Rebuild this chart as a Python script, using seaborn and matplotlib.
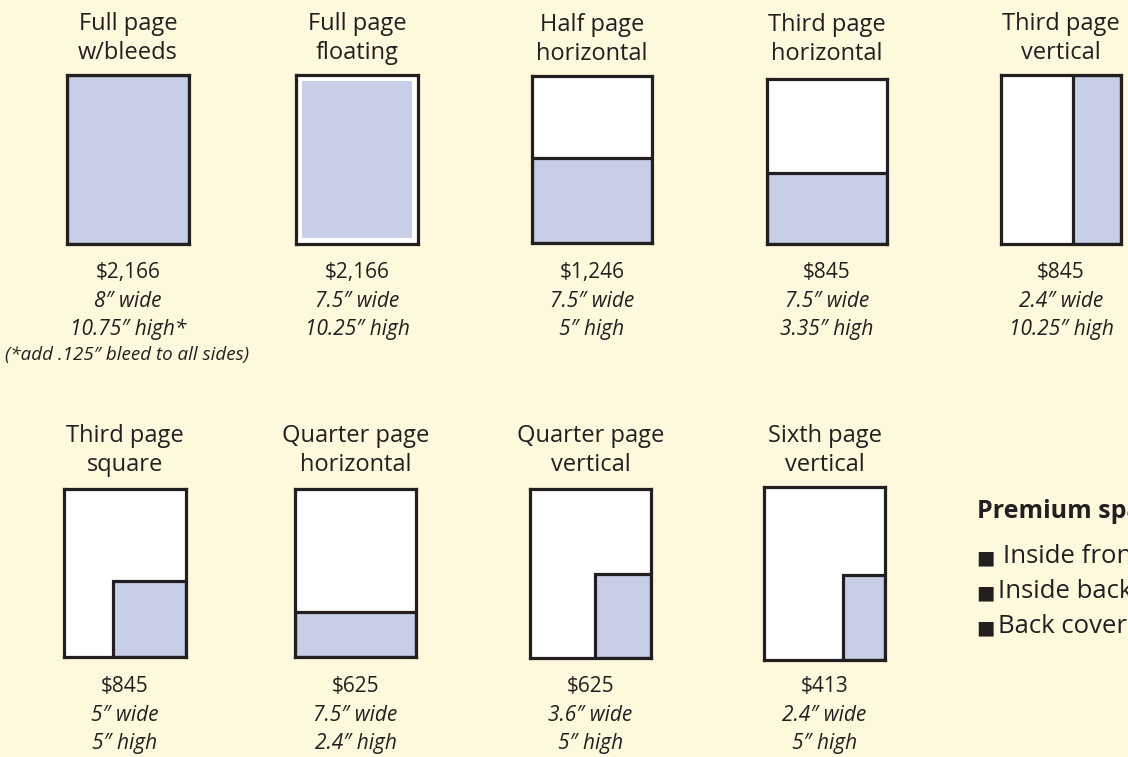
import matplotlib
matplotlib.use("Agg")
import matplotlib.pyplot as plt
import seaborn as sns

# ad sizes
titles = ["Full page\nw/bleeds", "Full page\nfloating", "Half page\nhorizontal",
          "Third page\nhorizontal", "Third page\nvertical", "Third page\nsquare",
          "Quarter page\nhorizontal", "Quarter page\nvertical", "Sixth page\nvertical"]
prices = ["$2,166", "$2,166", "$1,246", "$845", "$845", "$845", "$625", "$625", "$413"]
wide = ["8\u2033 wide", "7.5\u2033 wide", "7.5\u2033 wide", "7.5\u2033 wide", "2.4\u2033 wide",
        "5\u2033 wide", "7.5\u2033 wide", "3.6\u2033 wide", "2.4\u2033 wide"]
high = ["10.75\u2033 high*", "10.25\u2033 high", "5\u2033 high", "3.35\u2033 high", "10.25\u2033 high",
        "5\u2033 high", "2.4\u2033 high", "5\u2033 high", "5\u2033 high"]
notes = ["(*add .125\u2033 bleed to all sides)", "", "", "", "", "", "", "", ""]

# shaded part of each thumbnail (fraction of page width / height, anchored bottom-right)
fill_w = [1.0, 1.0, 1.0, 1.0, 0.40, 0.60, 1.0, 0.46, 0.35]
fill_h = [1.0, 1.0, 0.51, 0.43, 1.0, 0.45, 0.27, 0.50, 0.49]
floating = [False, True, False, False, False, False, False, False, False]

premium_title = "Premium spaces"
premium = ["Inside front cover", "Inside back cover", "Back cover"]

# layout, in pixels: left, top, right, bottom of each thumbnail
boxes = [(67, 75, 189, 244), (296, 75, 418, 244), (532, 76, 652, 243),
         (767, 79, 887, 244), (1001, 75, 1121, 244), (64, 489, 186, 657),
         (295, 489, 416, 657), (530, 489, 651, 658), (764, 487, 885, 660)]
title_base = [30, 30, 31, 31, 30, 442, 442, 442, 442]
row_bottom = [244, 244, 244, 244, 244, 658, 658, 658, 658]

W, H = 1128, 757
BG = "#fef8dc"
BLUE = "#c7cee6"
INK = "#231f20"

sns.set_theme(style="white", rc={"figure.facecolor": BG, "axes.facecolor": "white"})
plt.rcParams["font.family"] = ["Open Sans", "DejaVu Sans"]

fig = plt.figure(figsize=(W / 100, H / 100), dpi=100)

base = fig.add_axes([0, 0, 1, 1])
base.set_xlim(0, W)
base.set_ylim(H, 0)
base.axis("off")

for i, (l, t, r, b) in enumerate(boxes):
    ax = fig.add_axes([l / W, 1 - b / H, (r - l) / W, (b - t) / H])
    ax.set_xlim(0, 1)
    ax.set_ylim(0, 1)
    ax.set_xticks([])
    ax.set_yticks([])
    for s in ax.spines.values():
        s.set_visible(True)
        s.set_color(INK)
        s.set_linewidth(2.3)
    if floating[i]:
        ax.bar(0.05, 0.93, width=0.90, bottom=0.035, align="edge", color=BLUE, linewidth=0)
    else:
        ax.bar(1 - fill_w[i], fill_h[i], width=fill_w[i], align="edge",
               color=BLUE, edgecolor=INK, linewidth=2.3)

    cx = (l + r) / 2
    yb = row_bottom[i]
    t1, t2 = titles[i].split("\n")
    base.text(cx, title_base[i], t1, ha="center", va="baseline", fontsize=17, color=INK)
    base.text(cx, title_base[i] + 29, t2, ha="center", va="baseline", fontsize=17, color=INK)
    base.text(cx, yb + 34, prices[i], ha="center", va="baseline", fontsize=15, color=INK)
    base.text(cx, yb + 63, wide[i], ha="center", va="baseline", fontsize=15,
              style="italic", color=INK)
    base.text(cx, yb + 91, high[i], ha="center", va="baseline", fontsize=15,
              style="italic", color=INK)
    if notes[i]:
        base.text(cx - 1, yb + 116, notes[i], ha="center", va="baseline", fontsize=13.5,
                  style="italic", color=INK)

# premium spaces list (runs off the right edge, as in the original)
base.text(977, 518, premium_title, ha="left", va="baseline", fontsize=18,
          fontweight="bold", color=INK)
for k, item in enumerate(premium):
    y = 563 + 35 * k
    base.text(976, y, "\u25a0", ha="left", va="baseline", fontsize=14, color=INK,
              family=["DejaVu Sans"])
    base.text(1003 if k == 0 else 998, y, item, ha="left", va="baseline", fontsize=18.5,
              color=INK)

fig.savefig("out.png", dpi=100, facecolor=BG)
